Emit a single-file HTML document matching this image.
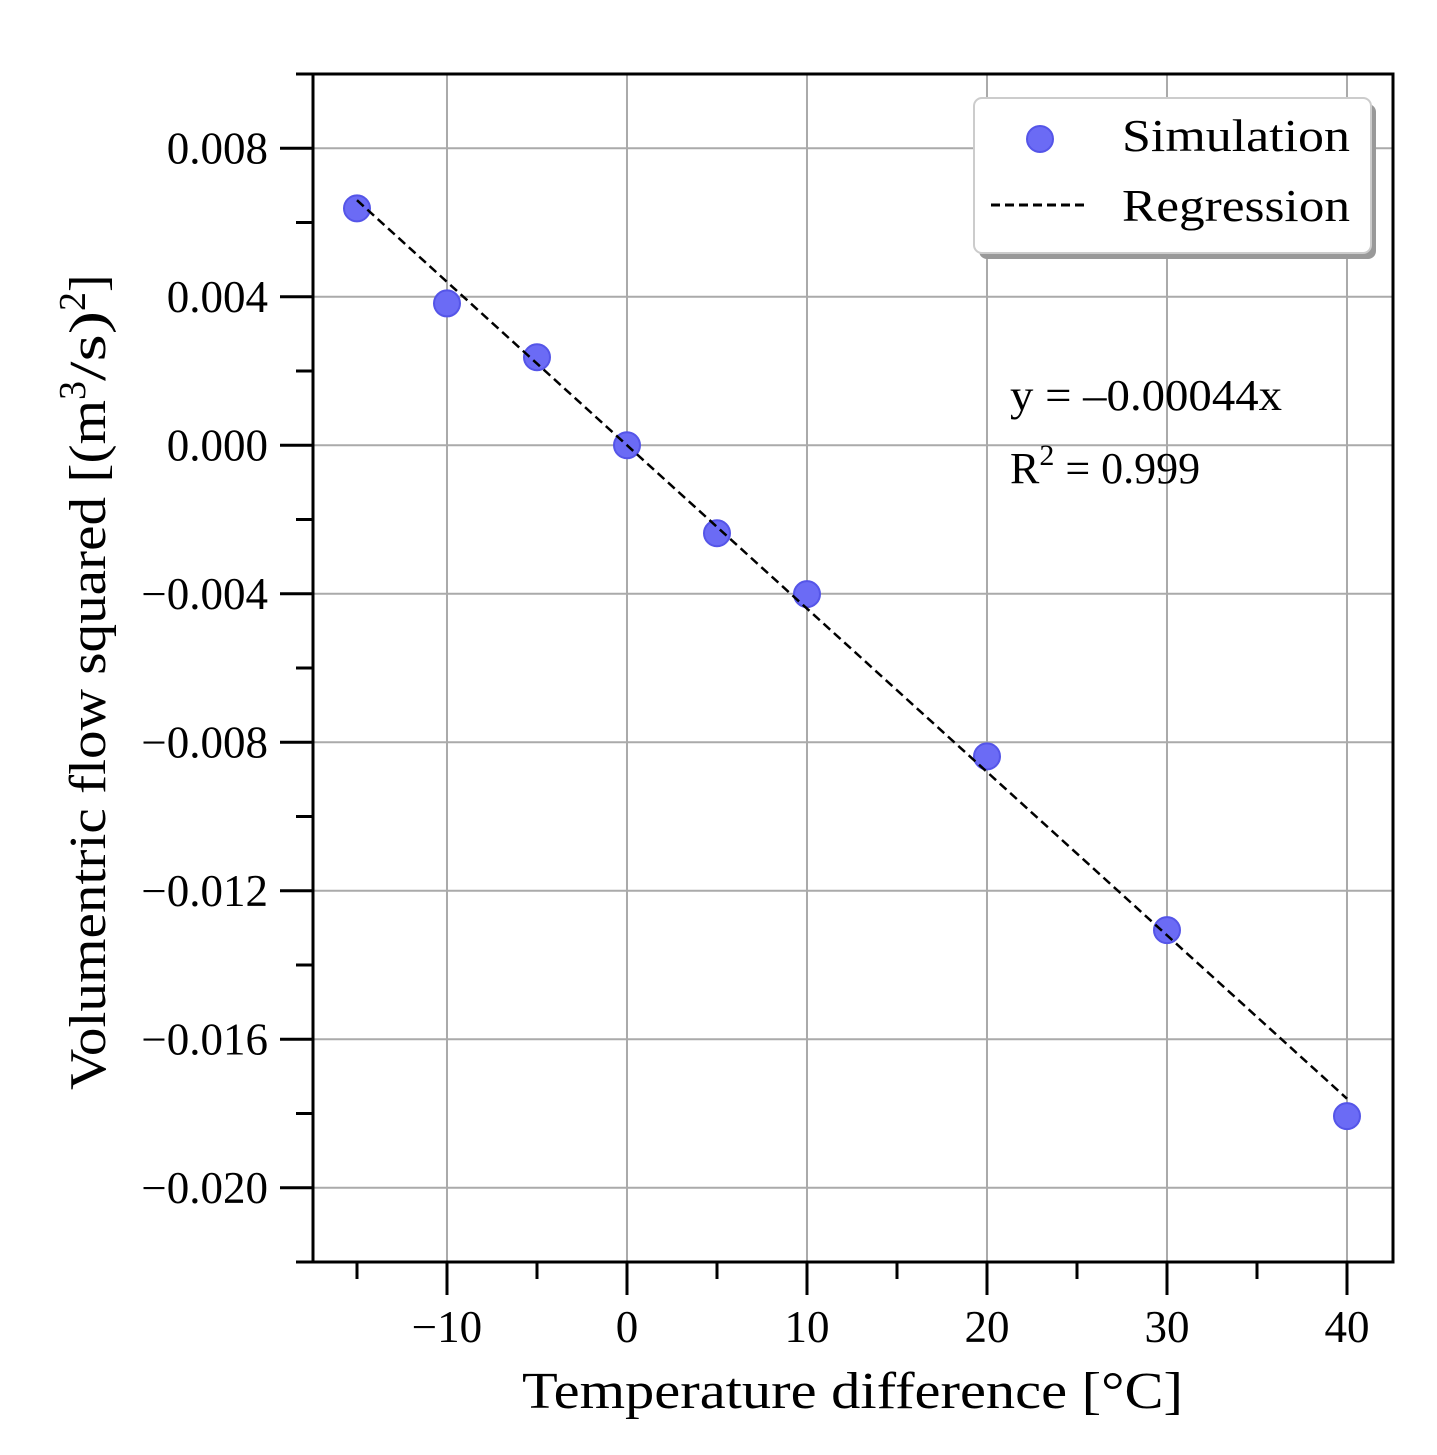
<!DOCTYPE html>
<html><head><meta charset="utf-8"><style>
html,body{margin:0;padding:0;background:#fff;}
svg{display:block;font-family:"Liberation Serif","DejaVu Serif",serif;}
</style></head><body>
<svg id="chart" width="1437" height="1455" viewBox="0 0 1437 1455" xmlns="http://www.w3.org/2000/svg">
<g id="grid"></g>
<g id="plot"></g>
<g id="axes"></g>
<text x="522" y="1408" font-size="52" textLength="661" lengthAdjust="spacingAndGlyphs">Temperature difference [°C]</text>
<text transform="translate(105,1090) rotate(-90)" font-size="52"><tspan textLength="690" lengthAdjust="spacingAndGlyphs">Volumentric flow squared [(m</tspan><tspan dy="-20" font-size="38">3</tspan><tspan dy="20" textLength="70" lengthAdjust="spacingAndGlyphs">/s)</tspan><tspan dy="-20" font-size="38">2</tspan><tspan dy="20">]</tspan></text>
<g font-size="44">
<text x="1010" y="410" textLength="272" lengthAdjust="spacingAndGlyphs">y = –0.00044x</text>
<text x="1010" y="483">R<tspan dy="-18" font-size="30">2</tspan><tspan dy="18"> = 0.999</tspan></text>
</g>
<g>
<rect x="979" y="104" width="397" height="155" rx="8" fill="#999"/>
<rect x="974" y="98" width="397" height="155" rx="8" fill="#fff" stroke="#ccc" stroke-width="2"/>
<circle cx="1040" cy="139" r="13" fill="#6b6bf5" stroke="#5555e8" stroke-width="2"/>
<text x="1122" y="151" font-size="46" textLength="228" lengthAdjust="spacingAndGlyphs">Simulation</text>
<line x1="991" y1="205" x2="1086" y2="205" stroke="#000" stroke-width="3" stroke-dasharray="9,5"/>
<text x="1122" y="221" font-size="46" textLength="228" lengthAdjust="spacingAndGlyphs">Regression</text>
</g>
</svg>
<script>
const xValues=[-15,-10,-5,0,5,10,20,30,40];
const yValues=[0.00638,0.00382,0.00237,0.0,-0.00237,-0.00401,-0.00838,-0.01306,-0.01807];
const regSlope=-0.00044;
const regXRange=[-15,40];
const xTicks=[-10,0,10,20,30,40];
const xTickLabels=["−10","0","10","20","30","40"];
const xMinorTicks=[-15,-5,5,15,25,35];
const yTicks=[0.008,0.004,0,-0.004,-0.008,-0.012,-0.016,-0.020];
const yTickLabels=["0.008","0.004","0.000","−0.004","−0.008","−0.012","−0.016","−0.020"];
const yMinorTicks=[0.010,0.006,0.002,-0.002,-0.006,-0.010,-0.014,-0.018,-0.022];
const xDomain=[-17.444,42.556], yDomain=[0.010,-0.022];
const L=313,R=1393,T=74,B=1262;
const sx=v=>L+(v-xDomain[0])/(xDomain[1]-xDomain[0])*(R-L);
const sy=v=>T+(v-yDomain[0])/(yDomain[1]-yDomain[0])*(B-T);
const NS="http://www.w3.org/2000/svg";
function mk(tag,attrs,parent){const e=document.createElementNS(NS,tag);for(const k in attrs)e.setAttribute(k,attrs[k]);parent.appendChild(e);return e;}
const grid=document.getElementById('grid'),plot=document.getElementById('plot'),axes=document.getElementById('axes');
xTicks.forEach(v=>{const l=mk('line',{x1:sx(v),x2:sx(v),y1:T,y2:B,stroke:'#aaa','stroke-width':2},grid);

});
yTicks.forEach(v=>{const l=mk('line',{x1:L,x2:R,y1:sy(v),y2:sy(v),stroke:'#aaa','stroke-width':2},grid);

});
xValues.forEach((x,i)=>{const c=mk('circle',{cx:sx(x),cy:sy(yValues[i]),r:13,fill:'#6b6bf5',stroke:'#5555e8','stroke-width':2},plot);

});
const rl=mk('line',{x1:sx(regXRange[0]),y1:sy(regSlope*regXRange[0]),x2:sx(regXRange[1]),y2:sy(regSlope*regXRange[1]),stroke:'#000','stroke-width':2.5,'stroke-dasharray':'9,5'},plot);


const fr=mk('rect',{x:L,y:T,width:R-L,height:B-T,fill:'none',stroke:'#000','stroke-width':3},axes);


xTicks.forEach((v,i)=>{const t=mk('line',{x1:sx(v),x2:sx(v),y1:B,y2:B+33,stroke:'#000','stroke-width':3},axes);


const tx=mk('text',{x:sx(v),y:1342,'font-size':45,'text-anchor':'middle'},axes);tx.textContent=xTickLabels[i];

});
xMinorTicks.forEach(v=>{const t=mk('line',{x1:sx(v),x2:sx(v),y1:B,y2:B+17,stroke:'#000','stroke-width':3},axes);

});
yTicks.forEach((v,i)=>{const t=mk('line',{x1:L-33,x2:L,y1:sy(v),y2:sy(v),stroke:'#000','stroke-width':3},axes);


const tx=mk('text',{x:268,y:sy(v)+15,'font-size':45,'text-anchor':'end'},axes);tx.textContent=yTickLabels[i];

});
yMinorTicks.forEach(v=>{const t=mk('line',{x1:L-17,x2:L,y1:sy(v),y2:sy(v),stroke:'#000','stroke-width':3},axes);

});
</script>
</body></html>
